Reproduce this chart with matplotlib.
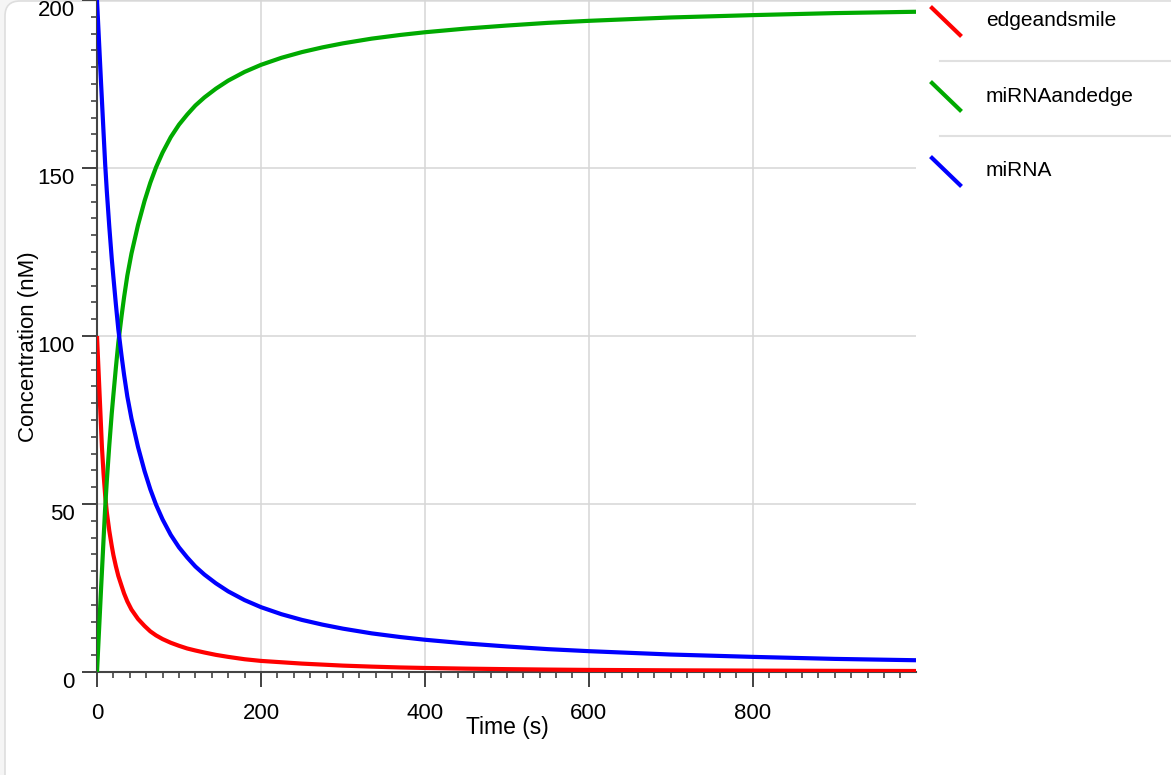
"""Concentration vs time for the miRNA / edge binding reaction."""

import matplotlib
matplotlib.use("Agg")
import matplotlib.pyplot as plt
import matplotlib.transforms as mtransforms
from matplotlib.lines import Line2D
from matplotlib.patches import FancyBboxPatch
from matplotlib.ticker import MultipleLocator

plt.rcParams["font.family"] = ["Liberation Sans", "DejaVu Sans"]

# values
time_s = [0, 1, 2, 3, 4, 5, 6, 8, 10, 12, 15, 18, 20, 23, 26, 30, 33, 37, 42, 50,
          58, 65, 72, 80, 90, 100, 110, 120, 131, 145, 160, 180, 200, 225, 250, 275,
          300, 335, 370, 400, 450, 500, 550, 600, 700, 800, 900, 999]
edgeandsmile = [100, 94.5, 89, 83.5, 78, 72.5, 67, 59, 52.5, 47.5, 42, 37.5, 34.8, 31.5, 28.6,
                25.6, 23.4, 21, 18.6, 15.8, 13.7, 12.1, 10.9, 9.8, 8.7, 7.8, 7.0, 6.4, 5.8,
                5.1, 4.5, 3.8, 3.3, 2.9, 2.5, 2.2, 1.9, 1.6, 1.35, 1.2, 1.0, 0.85, 0.72,
                0.62, 0.5, 0.42, 0.35, 0.3]
miRNAandedge = [0, 5, 10, 15, 20, 25, 29.8, 39.5, 49, 57, 67.5, 77, 82.5, 90.5, 98, 106,
                111.5, 118, 124.5, 133, 140.2, 145.6, 150.2, 154.6, 159.2, 162.9, 165.9,
                168.6, 171, 173.6, 176, 178.6, 180.7, 182.8, 184.5, 185.9, 187.1, 188.5,
                189.6, 190.4, 191.5, 192.4, 193.2, 193.8, 194.8, 195.5, 196.1, 196.5]
miRNA = [200, 195, 190, 185, 180, 175, 170.2, 160.5, 151, 143, 132.5, 123, 117.5, 109.5,
         102, 94, 88.5, 82, 75.5, 67, 59.8, 54.4, 49.8, 45.4, 40.8, 37.1, 34.1, 31.4, 29,
         26.4, 24, 21.4, 19.3, 17.2, 15.5, 14.1, 12.9, 11.5, 10.4, 9.6, 8.5, 7.6, 6.8,
         6.2, 5.2, 4.5, 3.9, 3.5]

series_names = ["edgeandsmile", "miRNAandedge", "miRNA"]
series_values = [edgeandsmile, miRNAandedge, miRNA]
series_colors = ["#ff0000", "#00aa00", "#0000ff"]

W, H = 1171, 775
fig = plt.figure(figsize=(W / 100, H / 100), dpi=100)
fig.patch.set_facecolor("#f5f5f5")

# card behind the chart
card = FancyBboxPatch((5, -60), 1400, H - 1 + 60,
                      boxstyle="round,pad=0,rounding_size=15",
                      transform=mtransforms.IdentityTransform(),
                      facecolor="white", edgecolor="#dedede", linewidth=1.2, zorder=0)
fig.add_artist(card)

ax = fig.add_axes([97 / W, 1 - 672 / H, (916 - 97) / W, 672 / H])
ax.set_facecolor("none")

for name, vals, col in zip(series_names, series_values, series_colors):
    ax.plot(time_s, vals, color=col, linewidth=3, solid_capstyle="butt",
            solid_joinstyle="round", zorder=3)

ax.set_xlim(0, 999)
ax.set_ylim(0, 200)
ax.xaxis.set_major_locator(MultipleLocator(200))
ax.xaxis.set_minor_locator(MultipleLocator(20))
ax.yaxis.set_major_locator(MultipleLocator(50))
ax.yaxis.set_minor_locator(MultipleLocator(5))

ax.grid(True, which="major", color="#d6d6d6", linewidth=1.1, zorder=0)
ax.set_axisbelow(True)
for side in ("top", "right"):
    ax.spines[side].set_visible(False)
for side in ("left", "bottom"):
    ax.spines[side].set_color("#444444")
    ax.spines[side].set_linewidth(1.5)

ax.tick_params(which="major", direction="out", length=11, width=1.3, color="#333333",
               labelsize=16, labelcolor="black")
ax.tick_params(which="minor", direction="out", length=4.5, width=1.1, color="#333333")
ax.tick_params(axis="x", which="major", pad=11)
ax.tick_params(axis="y", which="major", pad=5)
for lab in ax.get_yticklabels():
    lab.set_verticalalignment("top")

ax.set_xlabel("Time (s)", fontsize=16.5, va="center")
ax.xaxis.set_label_coords(0.5006, -0.0833)
ax.set_ylabel("Concentration (nM)", fontsize=16, va="center")
ax.yaxis.set_label_coords(-0.084, 0.484)

# legend on the right, drawn in figure pixels
to_fig = lambda x, y: (x / W, 1 - y / H)
for i, (name, col) in enumerate(zip(series_names, series_colors)):
    y0 = 8 + 75 * i
    (x1, y1), (x2, y2) = to_fig(932, y0), to_fig(960, y0 + 27)
    fig.add_artist(Line2D([x1, x2], [y1, y2], color=col, linewidth=3,
                          transform=fig.transFigure))
    tx, ty = to_fig(986, y0 + 13)
    fig.text(tx, ty, name, fontsize=15, va="center", ha="left", color="black")
    if i < len(series_names) - 1:
        sy = 61 + 75 * i
        (sx1, sy1), (sx2, sy2) = to_fig(940, sy), to_fig(W, sy)
        fig.add_artist(Line2D([sx1, sx2], [sy1, sy2], color="#e0e0e0", linewidth=1.5,
                              transform=fig.transFigure))

fig.savefig("out.png", dpi=100, facecolor=fig.get_facecolor())
